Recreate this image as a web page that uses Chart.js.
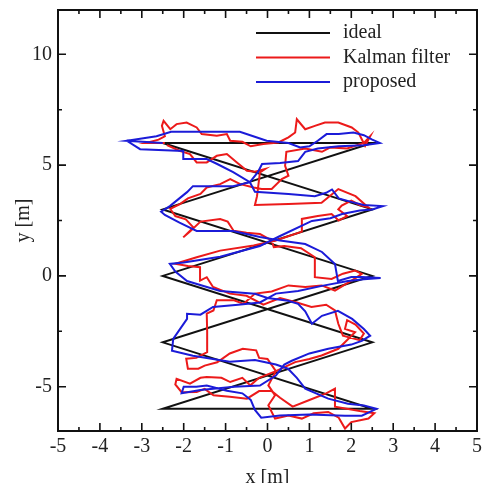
<!DOCTYPE html>
<html>
<head>
<meta charset="utf-8">
<script src="https://cdn.jsdelivr.net/npm/chart.js@4.4.0/dist/chart.umd.min.js"></script>
<style>
  html, body { margin: 0; padding: 0; background: #fff; }
  #wrap { width: 482px; height: 483px; }
</style>
</head>
<body>
<div id="wrap"><canvas id="trajChart" width="482" height="483"></canvas></div>
<script>
// series names / colours
const seriesNames = ['ideal', 'Kalman filter', 'proposed'];
const seriesColors = ['#111111', '#ec1a1a', '#1b1bd8'];

// axis ticks
const xTicks = [-5, -4, -3, -2, -1, 0, 1, 2, 3, 4, 5];
const yTicks = [-5, 0, 5, 10];

// ideal zigzag loop [x, y] in metres
const idealPath = [
  [-2.5, 6], [2.5, 6], [-2.5, 3], [2.5, 0], [-2.5, -3], [2.5, -6],
  [-2.5, -6], [2.5, -3], [-2.5, 0], [2.5, 3], [-2.5, 6]
];

// Kalman filter estimate
const kalmanPath = [
  [-2.45, 6.0], [-2.9, 6.0], [-2.6, 6.15], [-2.45, 6.3], [-2.52, 6.77], [-2.48, 7.0], [-2.32, 6.62],
  [-2.17, 6.85], [-1.93, 6.92], [-1.69, 6.7], [-1.57, 6.4], [-1.21, 6.32], [-0.97, 6.4], [-0.89, 6.1],
  [-0.6, 6.05], [-0.4, 5.85], [-0.1, 5.95], [0.26, 6.02], [0.5, 6.25], [0.66, 6.47], [0.7, 7.07],
  [0.9, 6.62], [1.13, 6.77], [1.37, 6.92], [1.69, 6.92], [2.01, 6.7], [2.17, 6.47], [2.25, 6.17],
  [2.33, 5.87], [2.45, 6.3], [2.3, 6.0],
  [1.9, 5.75], [1.5, 5.8], [1.3, 5.6], [0.9, 5.75], [0.45, 5.6], [0.42, 4.97], [0.5, 4.52], [0.34, 4.37],
  [0.1, 3.92], [-0.14, 3.92], [-0.33, 3.99], [-0.65, 4.14], [-0.89, 4.37], [-1.13, 4.14], [-1.45, 3.99],
  [-1.6, 3.7], [-1.9, 3.5], [-2.09, 3.24], [-2.32, 3.02], [-2.2, 2.7],
  [-1.95, 2.55], [-1.77, 2.19], [-2.01, 1.74], [-1.85, 2.0], [-1.6, 2.45], [-1.13, 2.57], [-0.95, 2.45],
  [-0.81, 2.04], [-0.5, 1.95], [-0.18, 1.89], [0.1, 1.6], [0.15, 1.3], [0.4, 1.35], [0.8, 1.25],
  [1.13, 0.84], [1.13, -0.06], [1.53, -0.14], [1.8, 0.1], [2.09, 0.24], [2.25, 0.09], [2.1, -0.1],
  [1.61, -0.66], [1.29, -0.43], [0.9, -0.5], [0.5, -0.43], [0.1, -0.7], [-0.3, -0.8], [-0.57, -1.26],
  [-0.8, -1.1], [-1.21, -1.1], [-1.29, -1.56], [-1.45, -1.7], [-1.44, -2.5], [-1.44, -3.44], [-1.7, -3.7],
  [-1.94, -3.74], [-1.9, -4.19], [-1.65, -4.19], [-1.5, -4.05],
  [-1.2, -3.9], [-0.9, -3.5], [-0.59, -3.29], [-0.27, -3.36], [-0.2, -3.7], [0.0, -3.75], [0.2, -4.3],
  [0.02, -4.94], [0.18, -5.39], [0.02, -5.84], [0.18, -6.44], [0.5, -6.3], [0.82, -6.44], [1.1, -6.2],
  [1.45, -6.14], [1.7, -6.4], [1.85, -6.89], [2.0, -6.6], [2.41, -6.44], [2.55, -6.2],
  [2.2, -6.1], [1.61, -5.9], [1.61, -5.09], [1.4, -5.3], [1.0, -5.6], [0.6, -5.9], [0.3, -5.5],
  [0.1, -5.2], [-0.2, -5.2], [-0.49, -5.54], [-0.9, -5.45], [-1.29, -5.39], [-1.5, -5.1], [-1.69, -5.24],
  [-2.05, -5.25], [-2.2, -4.9], [-2.17, -4.64], [-1.85, -4.86], [-1.6, -4.6], [-1.45, -4.56], [-1.1, -4.6],
  [-0.89, -4.79], [-0.6, -4.6], [-0.41, -4.94], [-0.2, -4.6],
  [0.2, -4.3], [0.66, -3.89], [1.0, -3.75], [1.29, -3.59], [1.69, -3.29], [2.09, -2.54], [1.85, -2.39],
  [1.9, -2.0], [2.1, -2.2], [2.3, -2.6], [2.2, -2.9],
  [1.8, -2.7], [1.69, -2.16], [1.61, -1.56], [1.4, -1.3], [1.05, -1.4], [0.7, -1.2], [0.3, -1.0],
  [-0.1, -1.3], [-0.5, -0.9], [-0.9, -0.8], [-1.3, -0.5], [-1.45, -0.06], [-1.61, -0.21], [-1.61, 0.39],
  [-1.9, 0.45], [-2.2, 0.55],
  [-1.69, 0.84], [-1.13, 1.14], [-0.33, 1.37], [0.2, 1.6], [0.82, 2.0], [0.82, 2.57], [1.2, 2.7],
  [1.53, 2.79], [1.7, 2.5], [1.9, 2.7], [1.69, 3.0], [1.77, 3.17], [2.0, 3.4], [2.2, 3.2], [2.4, 3.1],
  [2.1, 3.6], [1.69, 3.92],
  [1.29, 3.3], [0.5, 3.25], [-0.3, 3.2], [-0.25, 3.6], [-0.18, 4.67], [-0.06, 4.82], [-0.3, 4.7],
  [-0.49, 4.74], [-0.73, 5.12], [-0.97, 5.5], [-1.21, 5.42], [-1.45, 5.12], [-1.69, 5.12], [-1.85, 5.5],
  [-2.1, 5.65], [-2.4, 5.9]
];

// proposed method estimate
const proposedPath = [
  [-2.5, 6.0], [-3.36, 6.1], [-3.0, 6.2], [-2.65, 6.3], [-2.3, 6.5], [-1.5, 6.5], [-0.66, 6.5],
  [-0.34, 6.3], [-0.02, 6.1], [0.5, 6.0], [0.78, 5.8], [1.0, 5.85], [1.2, 6.1], [1.41, 6.4], [1.7, 6.4],
  [2.05, 6.47], [2.3, 6.35], [2.5, 6.15], [2.68, 6.0],
  [2.3, 5.9], [1.7, 5.85], [1.2, 5.75], [0.9, 5.6], [0.73, 5.18], [0.3, 5.1], [-0.13, 5.05],
  [-0.23, 4.68], [-0.42, 4.23], [-0.82, 4.05], [-1.78, 4.05], [-1.92, 3.78], [-2.33, 3.15], [-2.54, 2.9],
  [-2.45, 2.75], [-2.1, 2.4], [-1.69, 2.03], [-0.82, 2.03], [-0.18, 1.76], [0.3, 1.6], [0.9, 1.44],
  [1.3, 1.08], [1.61, 0.54], [1.68, -0.23], [2.0, -0.05], [2.25, -0.05], [2.7, -0.1],
  [2.3, -0.15], [1.92, -0.23], [1.3, -0.45], [0.73, -0.68], [0.2, -0.8], [-0.18, -1.2], [-0.7, -1.3],
  [-1.3, -1.4], [-1.6, -1.75], [-1.92, -1.71], [-1.92, -1.94], [-2.25, -2.84], [-2.28, -3.38],
  [-1.78, -3.6], [-0.9, -3.87], [-0.3, -3.8], [0.2, -4.0], [0.49, -4.19], [0.7, -4.6], [0.9, -5.09],
  [1.45, -5.54], [1.92, -5.77], [2.3, -5.85], [2.6, -6.0],
  [2.25, -6.31], [1.85, -6.31], [1.0, -6.25], [0.3, -6.3], [-0.15, -6.4], [-0.3, -6.05], [-0.4, -5.6],
  [-0.6, -5.3], [-0.97, -5.18], [-1.45, -4.95], [-1.7, -5.0], [-2.0, -5.0], [-2.05, -5.3],
  [-1.6, -5.15], [-0.8, -5.0], [-0.18, -4.95], [0.2, -4.5], [0.4, -4.0], [0.58, -3.83], [1.0, -3.5],
  [1.45, -3.29], [2.0, -3.1], [2.25, -2.93], [2.45, -2.7], [2.3, -2.4], [2.02, -1.94],
  [1.68, -1.58], [1.3, -1.8], [1.06, -2.16], [0.9, -1.6], [0.73, -1.26], [0.49, -1.12], [0.0, -1.0],
  [-0.3, -0.81], [-1.13, -0.68], [-1.92, -0.23], [-2.2, 0.2], [-2.33, 0.54],
  [-2.0, 0.6], [-1.13, 0.86], [-0.18, 1.35], [0.3, 1.8], [1.06, 2.48], [1.5, 2.6], [1.78, 2.79],
  [2.2, 2.95], [2.5, 3.0], [2.75, 3.15],
  [2.3, 3.2], [2.02, 3.33], [1.7, 3.5], [1.54, 3.9], [1.4, 3.75], [1.13, 3.6], [0.5, 3.7], [-0.3, 3.8],
  [-0.42, 4.23], [-0.82, 4.68], [-1.2, 5.05], [-1.45, 5.27], [-2.0, 5.27], [-2.01, 5.64], [-3.04, 5.72],
  [-3.36, 6.1]
];

const toPoints = path => path.map(p => ({ x: p[0], y: p[1] }));
const serif = '"Liberation Serif", "Times New Roman", serif';

// frame with inward ticks on all four sides
const framePlugin = {
  id: 'frame',
  afterDatasetsDraw(chart) {
    const { ctx, chartArea: a, scales: { x, y } } = chart;
    ctx.save();
    ctx.strokeStyle = '#111';
    ctx.lineWidth = 2;
    ctx.strokeRect(a.left, a.top, a.right - a.left, a.bottom - a.top);
    ctx.lineWidth = 1.6;
    ctx.beginPath();
    for (let v = x.min; v <= x.max; v += 0.5) {
      const px = x.getPixelForValue(v);
      const len = Number.isInteger(v) ? 8 : 4;
      ctx.moveTo(px, a.bottom); ctx.lineTo(px, a.bottom - len);
      ctx.moveTo(px, a.top); ctx.lineTo(px, a.top + len);
    }
    for (let v = -7.5; v <= y.max; v += 2.5) {
      if (v < y.min) continue;
      const py = y.getPixelForValue(v);
      const len = v % 5 === 0 ? 8 : 4;
      ctx.moveTo(a.left, py); ctx.lineTo(a.left + len, py);
      ctx.moveTo(a.right, py); ctx.lineTo(a.right - len, py);
    }
    ctx.stroke();
    ctx.restore();
  }
};

// legend inside the plot, top right
const legendPlugin = {
  id: 'innerLegend',
  afterDraw(chart) {
    const { ctx } = chart;
    ctx.save();
    ctx.font = '20px ' + serif;
    ctx.textBaseline = 'middle';
    chart.data.datasets.forEach((ds, i) => {
      const yy = 33 + i * 24.5;
      ctx.strokeStyle = ds.borderColor;
      ctx.lineWidth = 2;
      ctx.beginPath();
      ctx.moveTo(256, yy); ctx.lineTo(330, yy);
      ctx.stroke();
      ctx.fillStyle = '#222';
      ctx.fillText(ds.label, 343, yy);
    });
    ctx.restore();
  }
};

const paths = [idealPath, kalmanPath, proposedPath];

new Chart(document.getElementById('trajChart'), {
  type: 'scatter',
  data: {
    datasets: paths.map((p, i) => ({
      label: seriesNames[i],
      data: toPoints(p),
      showLine: true,
      borderColor: seriesColors[i],
      backgroundColor: seriesColors[i],
      borderWidth: 2,
      pointRadius: 0,
      tension: 0,
      order: 3 - i
    }))
  },
  options: {
    responsive: false,
    animation: false,
    devicePixelRatio: 1,
    layout: { padding: { top: 10, right: 5, left: 0, bottom: 0 } },
    plugins: {
      legend: { display: false },
      tooltip: { enabled: false }
    },
    scales: {
      x: {
        type: 'linear',
        min: -5,
        max: 5,
        afterBuildTicks: s => { s.ticks = xTicks.map(v => ({ value: v })); },
        afterFit: s => { s.height = 52; s.paddingLeft = 0; s.paddingRight = 0; },
        grid: { display: false, drawTicks: false },
        border: { display: false },
        ticks: { color: '#222', font: { family: serif, size: 20 }, padding: 4, maxRotation: 0 },
        title: { display: true, text: 'x [m]', color: '#222', font: { family: serif, size: 20, lineHeight: 1 }, padding: { top: 0, bottom: -5 } }
      },
      y: {
        type: 'linear',
        min: -7,
        max: 12,
        afterBuildTicks: s => { s.ticks = yTicks.map(v => ({ value: v })); },
        afterFit: s => { s.width = 58; s.paddingTop = 0; s.paddingBottom = 0; },
        grid: { display: false, drawTicks: false },
        border: { display: false },
        ticks: { color: '#222', font: { family: serif, size: 20 }, padding: 6 },
        title: { display: true, text: 'y [m]', color: '#222', font: { family: serif, size: 20, lineHeight: 1 }, padding: { top: 14, bottom: 0 } }
      }
    }
  },
  plugins: [framePlugin, legendPlugin]
});
</script>
</body>
</html>
